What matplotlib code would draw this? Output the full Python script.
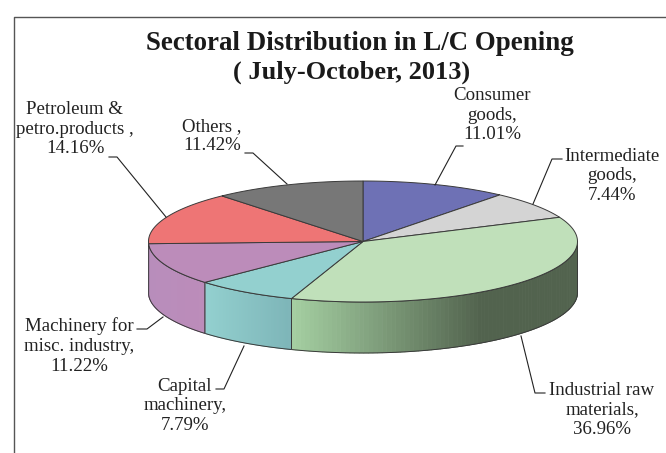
"""Sectoral distribution of L/C opening, drawn as a tilted 3D-look pie."""

import matplotlib

matplotlib.use("Agg")
import matplotlib.pyplot as plt
import numpy as np
from matplotlib.collections import PolyCollection
from matplotlib.colors import to_rgb
from matplotlib.patches import Polygon

sectors = ["Consumer goods", "Intermediate goods", "Industrial raw materials",
           "Capital machinery", "Machinery for misc. industry",
           "Petroleum & petro.products", "Others"]
shares = [11.01, 7.44, 36.96, 7.79, 11.22, 14.16, 11.42]
top_colors = ["#6E71B5", "#D4D4D4", "#C0E0BA", "#93D0CF", "#BC8CBA", "#EE7575", "#777777"]
# side wall gradient, left colour -> right colour over (x start, x stop)
side_grad = {
    2: ("#A5D0A2", "#52634E", 291, 480),
    3: ("#93D0CF", "#7DB5B8", 205, 291),
    4: ("#B88DBB", "#BC8CBA", 148, 205),
}

CX, CY, RX, RY, DEPTH = 363, 241.5, 214.5, 60.5, 51
EDGE = "#3a3a3a"

plt.rcParams["font.family"] = ["Liberation Serif", "DejaVu Serif"]

fig = plt.figure(figsize=(6.66, 4.53), dpi=100, facecolor="white")
ax = fig.add_axes([0, 0, 1, 1])
ax.set_xlim(0, 666)
ax.set_ylim(453, 0)
ax.axis("off")


def rim(a):
    """Point on the top ellipse; a is degrees clockwise from 12 o'clock."""
    t = np.radians(a)
    return CX + RX * np.sin(t), CY - RY * np.cos(t)


bounds = np.concatenate([[0], np.cumsum(shares)]) * 3.6

# side walls first, only the front half shows
for i, (c0, c1, x0, x1) in side_grad.items():
    a0 = max(bounds[i], 90)
    a1 = min(bounds[i + 1], 270)
    aa = np.linspace(a0, a1, 90)
    xs, ys = rim(aa)
    quads, cols = [], []
    for j in range(len(aa) - 1):
        quads.append([(xs[j], ys[j]), (xs[j + 1], ys[j + 1]),
                      (xs[j + 1], ys[j + 1] + DEPTH), (xs[j], ys[j] + DEPTH)])
        f = np.clip(((xs[j] + xs[j + 1]) / 2 - x0) / (x1 - x0), 0, 1)
        cols.append(tuple((1 - f) * np.array(to_rgb(c0)) + f * np.array(to_rgb(c1))))
    ax.add_collection(PolyCollection(quads, facecolors=cols, edgecolors=cols, linewidths=0.6))
    outline = list(zip(xs, ys)) + list(zip(xs[::-1], ys[::-1] + DEPTH))
    ax.add_patch(Polygon(outline, closed=True, fill=False, edgecolor=EDGE, lw=0.7))

# top face
for i, col in enumerate(top_colors):
    aa = np.linspace(bounds[i], bounds[i + 1], 80)
    xs, ys = rim(aa)
    pts = [(CX, CY)] + list(zip(xs, ys))
    ax.add_patch(Polygon(pts, closed=True, facecolor=col, edgecolor=EDGE, lw=0.7))

# chart frame, open at the bottom and on the right
ax.plot([13.5, 13.5, 666], [453, 16.5, 16.5], color="#555555", lw=1.0)

ax.text(360, 43, "Sectoral Distribution in L/C Opening", ha="center", va="center",
        fontsize=19.4, fontweight="bold", color="#1a1a1a")
ax.text(352, 72, "( July-October, 2013)", ha="center", va="center",
        fontsize=19.0, fontweight="bold", color="#1a1a1a")

labels = [
    (492, 115, "Consumer\ngoods,\n11.01%"),
    (612, 176, "Intermediate\ngoods,\n7.44%"),
    (602, 410, "Industrial raw\nmaterials,\n36.96%"),
    (185, 406, "Capital\nmachinery,\n7.79%"),
    (79, 346, "Machinery for\nmisc. industry,\n11.22%"),
    (75, 129, "Petroleum &\npetro.products ,\n14.16%"),
    (212, 136, "Others ,\n11.42%"),
]
for x, y, s in labels:
    ax.text(x, y, s, ha="center", va="center", fontsize=13.6, color="#222222", linespacing=1.2)

leaders = [
    ([435, 456, 463], [185, 146, 146]),
    ([533, 552, 562], [204, 159, 159]),
    ([521, 535, 545], [336, 393, 393]),
    ([244, 224, 216], [346, 389, 389]),
    ([163, 147, 137], [317, 329, 329]),
    ([166, 117, 109], [217, 157, 157]),
    ([287, 253, 245], [184, 153, 153]),
]
for xs, ys in leaders:
    ax.plot(xs, ys, color="#222222", lw=0.8)

fig.savefig("out.png", dpi=100)
